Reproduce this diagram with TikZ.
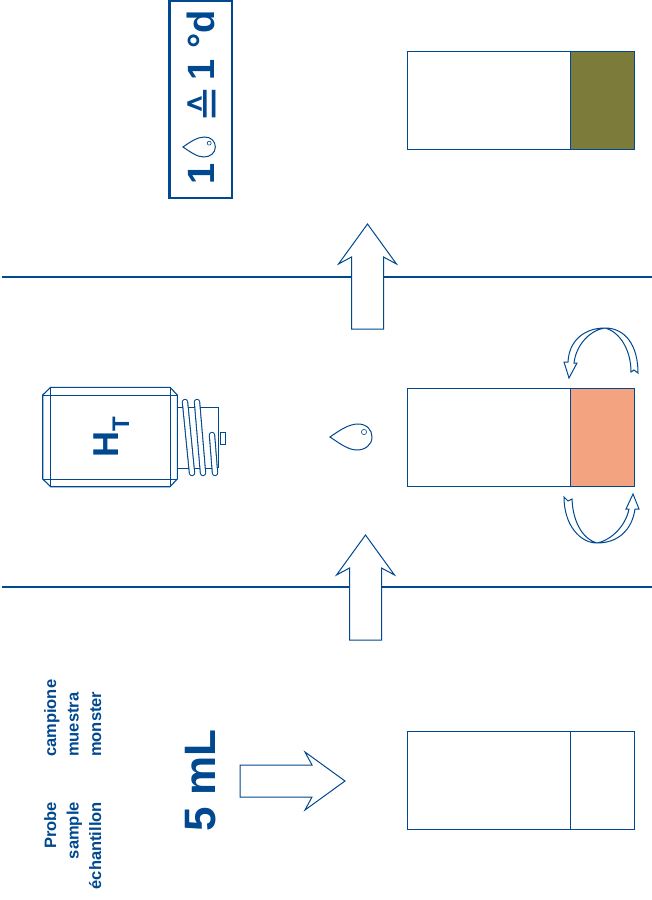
\documentclass[tikz,border=0pt]{standalone}
\usepackage{fontspec}
\setmainfont{Liberation Sans}
\newfontfamily\symfont{DejaVu Sans}
\usepackage{tikz}
\definecolor{labblue}{HTML}{00488F}
\definecolor{tubeorange}{HTML}{F4A380}
\definecolor{tubeolive}{HTML}{7D7B3A}
\tikzset{
    outline/.style={draw=labblue, line width=1pt, line join=miter},
    sepline/.style={draw=labblue, line width=2.4pt},
    tube/.style={outline, line width=0.9pt},
    labeltext/.style={text=labblue, font=\bfseries, rotate=90, inner sep=0pt},
    pics/blockarrow/.style={code={
        \draw[outline, fill=white] (0,0) -- (-40,-29) -- (-33,-16) -- (-105,-16)
            -- (-105,16) -- (-33,16) -- (-40,29) -- cycle;
    }},
    pics/droplet/.style={code={
        \draw[outline, fill=white] (0,0) .. controls (10,-7) and (19,-13) .. (28,-13)
            .. controls (37,-13) and (42,-7) .. (42,0)
            .. controls (42,8) and (35,13) .. (27,13)
            .. controls (18,13) and (9,6) .. (0,0) -- cycle;
        \draw[outline, line width=0.6pt] (34,-5) circle (2.6);
    }}
}
\begin{document}
\begin{tikzpicture}[x=1pt, y=-1pt]
\useasboundingbox (0,0) rectangle (652,900);
% separators
\draw[sepline] (2,277) -- (652,277);
\draw[sepline] (2,587) -- (652,587);
% sample label
\node[labeltext, anchor=base east, align=right, font=\bfseries\fontsize{16.5}{22.5}\selectfont] (sampleA) at (101,802) {Probe\\sample\\échantillon};
\node[labeltext, anchor=base west, align=left, font=\bfseries\fontsize{16.5}{22.5}\selectfont] (sampleB) at (101,757) {campione\\muestra\\monster};
\node[labeltext, anchor=base west, font=\bfseries\fontsize{44}{44}\selectfont] (volume) at (215,832) {5 mL};
% block arrows
\pic at (345,781) {blockarrow};
\pic[rotate=90] at (365.5,535) {blockarrow};
\pic[rotate=90] at (367.5,224) {blockarrow};
% tubes
\draw[tube] (407,731) rectangle (634,829);
\draw[tube] (570,731) -- (570,829);
\draw[tube] (407,388) rectangle (570,486);
\draw[tube, fill=tubeorange] (570,388) rectangle (634,486);
\draw[tube] (407,51) rectangle (570,149);
\draw[tube, fill=tubeolive] (570,51) rectangle (634,149);
% mixing arrows
\draw[outline, fill=white] (638,373) .. controls (638,345) and (625,328) .. (605,328)
    .. controls (585,328) and (569,340) .. (568,362) -- (564,362) -- (569,378) -- (577,363) -- (574,363)
    .. controls (576,345) and (590,330) .. (605,328)
    .. controls (620,332) and (631,350) .. (631,372) -- (634,370) -- cycle;
\draw[outline, fill=white] (564,497) .. controls (564,525) and (580,543) .. (597,543)
    .. controls (618,543) and (632,530) .. (635,509) -- (639,509) -- (633,494) -- (626,509) -- (629,509)
    .. controls (626,525) and (612,540) .. (597,543)
    .. controls (585,540) and (573,525) .. (572,499) -- (568,501) -- cycle;
% drop
\pic at (330,437) {droplet};
% vial
\draw[outline, line width=1.1pt] (42.7,395) -- (50.7,387.3) -- (170,387.3) -- (177.3,395) -- (177.3,479)
    -- (170,486.7) -- (50.7,486.7) -- (42.7,479) -- cycle;
\draw[outline] (50.7,387.3) -- (50.7,486.7);
\draw[outline] (170,387.3) -- (170,486.7);
\draw[outline] (42.7,395) -- (177.3,395);
\draw[outline] (42.7,479) -- (177.3,479);
\draw[outline] (177.3,407) -- (218,407);
\draw[outline] (177.3,468) -- (218,468);
\draw[labblue, line width=1.8pt] (218.5,407) -- (218.5,468);
\draw[outline] (220,432) rectangle (225,444);
\foreach \xa/\ya/\xb in {185/402/192, 197/402/203, 212/435/215}
    \draw[draw=labblue, line width=1.1pt, double=white, double distance=4.2pt, line cap=round] (\xa,\ya) -- (\xb,473);
\node[labeltext, anchor=base west, font=\bfseries\fontsize{36}{36}\selectfont] (vialname) at (118,458)
    {H\raisebox{-11pt}{\fontsize{24}{24}\selectfont T}};
% incubation box
\draw[draw=labblue, line width=2.6pt] (169.5,1) rectangle (232,198);
\node[labeltext, anchor=base west, font=\bfseries\fontsize{38}{38}\selectfont] (countA) at (214,185) {1};
\pic[scale=.77] at (183,147) {droplet};
\node[labeltext, anchor=center, font=\symfont\fontsize{44}{44}\selectfont, text=labblue] (equals) at (206,104) {≙};
\node[labeltext, anchor=base east, font=\bfseries\fontsize{38}{38}\selectfont] (time) at (214,10) {1 °d};
\end{tikzpicture}
\end{document}
